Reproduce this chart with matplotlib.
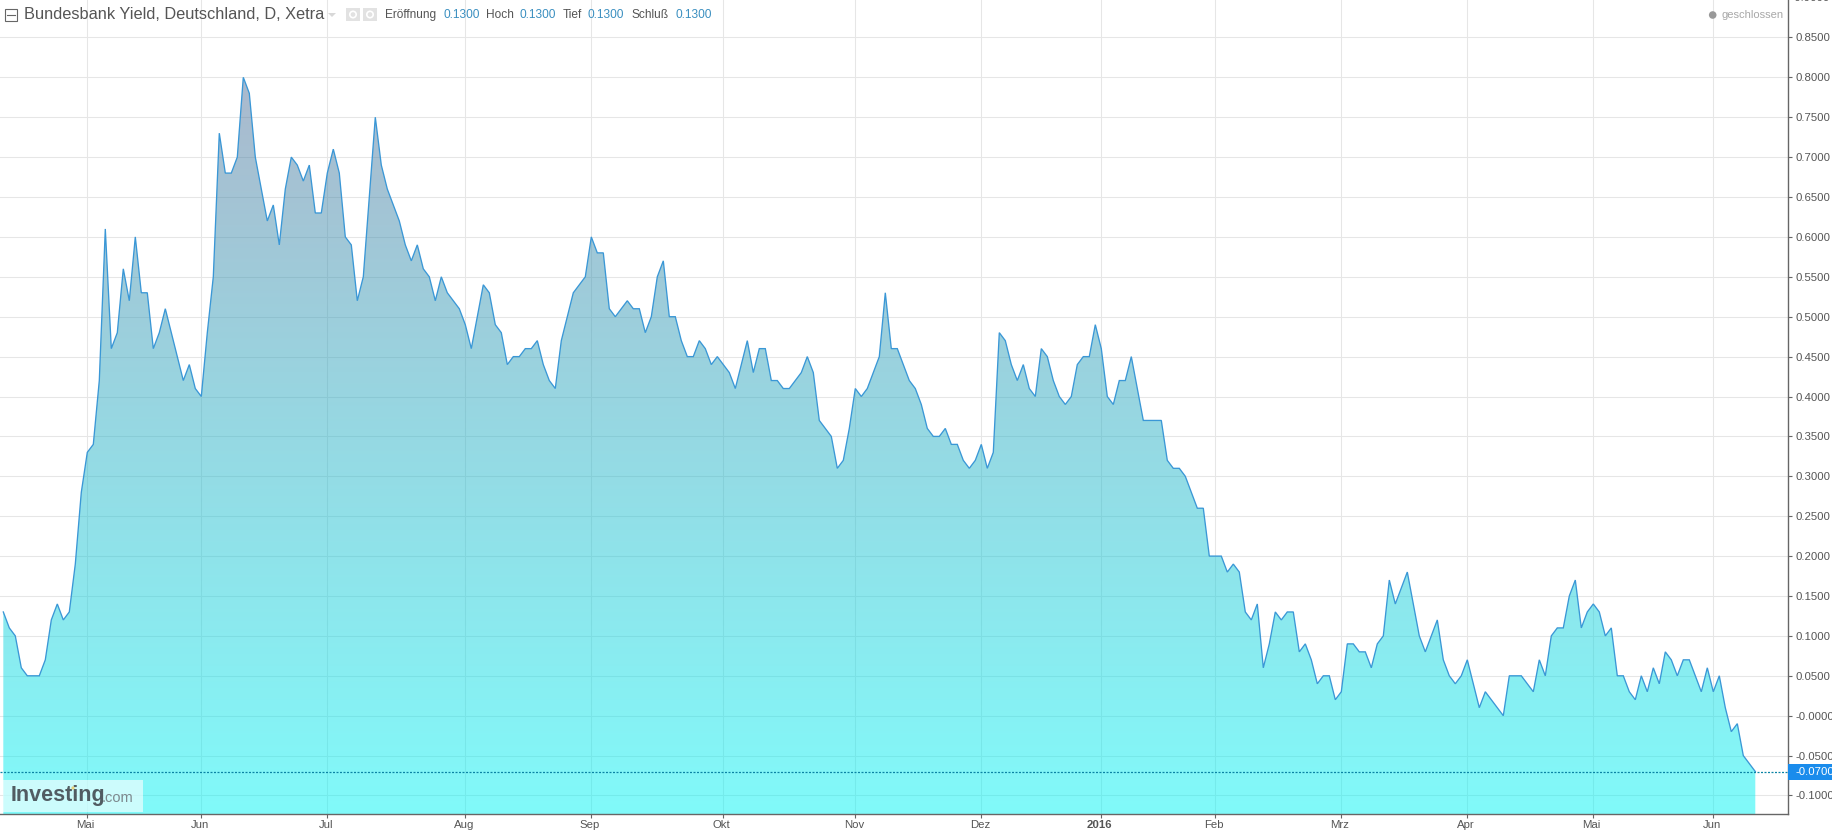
#!/usr/bin/python
"""
Bundesbank Yield daily chart, area with a vertical gradient, one point per trading day.
"""

import numpy as np
import matplotlib
matplotlib.use("Agg")
import matplotlib.pyplot as plt
from matplotlib.patches import Rectangle, Circle, Polygon
from matplotlib.transforms import Affine2D

# yield values per trading day, split up by the month they were read from
apr_15 = [.13, .11, .10, .06, .05, .05, .05, .07, .12, .14, .12, .13, .19, .28]
mai_15 = [.33, .34, .42, .61, .46, .48, .56, .52, .60, .53, .53, .46, .48, .51, .48, .45, .42, .44, .41]
jun_15 = [.40, .48, .55, .73, .68, .68, .70, .80, .78, .70, .66, .62, .64, .59, .66, .70, .69, .67, .69, .63, .63]
jul_15 = [.68, .71, .68, .60, .59, .52, .55, .65, .75, .69, .66, .64, .62, .59, .57, .59, .56, .55, .52, .55,
          .53, .52, .51]
aug_15 = [.49, .46, .50, .54, .53, .49, .48, .44, .45, .45, .46, .46, .47, .44, .42, .41, .47, .50, .53, .54, .55]
sep_15 = [.60, .58, .58, .51, .50, .51, .52, .51, .51, .48, .50, .55, .57, .50, .50, .47, .45, .45, .47, .46,
          .44, .45]
okt_15 = [.44, .43, .41, .44, .47, .43, .46, .46, .42, .42, .41, .41, .42, .43, .45, .43, .37, .36, .35, .31,
          .32, .36]
nov_15 = [.41, .40, .41, .43, .45, .53, .46, .46, .44, .42, .41, .39, .36, .35, .35, .36, .34, .34, .32, .31, .32]
dez_15 = [.34, .31, .33, .48, .47, .44, .42, .44, .41, .40, .46, .45, .42, .40, .39, .40, .44, .45, .45, .49]
jan_16 = [.46, .40, .39, .42, .42, .45, .41, .37, .37, .37, .37, .32, .31, .31, .30, .28, .26, .26, .20]
feb_16 = [.20, .20, .18, .19, .18, .13, .12, .14, .06, .09, .13, .12, .13, .13, .08, .09, .07, .04, .05, .05, .02]
mrz_16 = [.03, .09, .09, .08, .08, .06, .09, .10, .17, .14, .16, .18, .14, .10, .08, .10, .12, .07, .05, .04, .05]
apr_16 = [.07, .04, .01, .03, .02, .01, .00, .05, .05, .05, .04, .03, .07, .05, .10, .11, .11, .15, .17, .11, .13]
mai_16 = [.14, .13, .10, .11, .05, .05, .03, .02, .05, .03, .06, .04, .08, .07, .05, .07, .07, .05, .03, .06]
jun_16 = [.03, .05, .01, -.02, -.01, -.05, -.06, -.07]

month_labels = ["Mai", "Jun", "Jul", "Aug", "Sep", "Okt", "Nov", "Dez", "2016", "Feb", "Mrz", "Apr", "Mai", "Jun"]
month_blocks = [mai_15, jun_15, jul_15, aug_15, sep_15, okt_15, nov_15, dez_15, jan_16, feb_16, mrz_16, apr_16,
                mai_16, jun_16]

y_ticks = [-0.10, -0.05, 0.00, 0.05, 0.10, 0.15, 0.20, 0.25, 0.30, 0.35, 0.40, 0.45, 0.50, 0.55, 0.60, 0.65,
           0.70, 0.75, 0.80, 0.85]
y_labels = ["-0.1000", "-0.0500", "-0.0000"] + ["%.4f" % t for t in y_ticks[3:]]
top_label = "0.9000"
last_value = -0.07
last_label = "-0.0700"
ohlc = ["Eröffnung", "0.1300", "Hoch", "0.1300", "Tief", "0.1300", "Schluß", "0.1300"]
title = "Bundesbank Yield, Deutschland, D, Xetra"

WIDTH, HEIGHT = 1833, 831
TEXT_DARK = "#555555"


def draw_area(ax, values):
    """
    Line plus gradient area. The fill is half transparent so the grid shows through it.
    """
    x = np.arange(len(values))
    bottom = ax.get_ylim()[0]
    top_rgb = np.array([85, 115, 155]) / 255
    low_rgb = np.array([1, 245, 245]) / 255
    steps = np.linspace(0, 1, 256)[:, None]
    grad = np.ones((256, 1, 4))
    grad[:, :, :3] = (top_rgb * (1 - steps) + low_rgb * steps)[:, None, :]
    grad[:, :, 3] = 0.5

    xlim, ylim = ax.get_xlim(), ax.get_ylim()
    img = ax.imshow(grad, extent=(xlim[0], xlim[1], bottom, max(values)), aspect="auto", origin="upper",
                    interpolation="bilinear", zorder=1)
    outline = np.vstack([[x[0], bottom], np.column_stack([x, values]), [x[-1], bottom]])
    clip = Polygon(outline, closed=True, transform=ax.transData, facecolor="none", edgecolor="none")
    ax.add_patch(clip)
    img.set_clip_path(clip)
    ax.set_xlim(xlim)
    ax.set_ylim(ylim)

    ax.plot(x, values, color="#3a97d6", lw=0.95, zorder=3, solid_joinstyle="miter")


def draw_axes(ax, month_ticks):
    for side in ["left", "top"]:
        ax.spines[side].set_visible(False)
    for side in ["right", "bottom"]:
        ax.spines[side].set_color("#666666")
        ax.spines[side].set_linewidth(1.0)
    ax.yaxis.tick_right()
    ax.set_yticks(y_ticks)
    ax.set_yticklabels(y_labels)
    ax.set_xticks(month_ticks)
    ax.set_xticklabels(month_labels)
    ax.tick_params(axis="y", length=3, width=0.8, color="#666666", labelsize=8.2, labelcolor=TEXT_DARK, pad=2.5)
    ax.tick_params(axis="x", length=3, width=0.8, color="#666666", labelsize=8.2, labelcolor=TEXT_DARK, pad=1.5)
    ax.grid(True, color="#e6e6e6", lw=0.75, zorder=0)
    ax.set_axisbelow(True)
    # the month labels sit a little left of their ticks
    nudge = Affine2D().translate(-1.5, 0)
    for lab in ax.get_xticklabels():
        lab.set_transform(lab.get_transform() + nudge)
        if lab.get_text() == "2016":
            lab.set_fontweight("bold")
    ax.text(1.0, 0.9, "  " + top_label, transform=ax.get_yaxis_transform(), va="center", ha="left", fontsize=8.2,
            color=TEXT_DARK)


def draw_last_price(ax):
    ax.axhline(last_value, color="#0b84a5", lw=0.9, ls=(0, (1.6, 1.2)), zorder=4)


def draw_header(fig, ax):
    px = Affine2D().scale(1, -1).translate(0, HEIGHT)

    # collapse icon
    fig.add_artist(Rectangle((4.5, 8.5), 12, 12, transform=px, facecolor="white", edgecolor="#666666", lw=0.8))
    fig.add_artist(plt.Line2D([6.5, 14.5], [14.5, 14.5], transform=px, color="#666666", lw=0.8))
    fig.text(24, 14.5, title, transform=px, fontsize=11.75, color=TEXT_DARK, va="center", ha="left")

    # small triangle and the two settings buttons
    fig.add_artist(Polygon([[328, 13], [336, 13], [332, 17]], transform=px, facecolor="#d8d8d8", edgecolor="none"))
    for x0 in [346, 363]:
        fig.add_artist(Rectangle((x0, 8), 14, 13, transform=px, facecolor="#e2e2e2", edgecolor="none"))
        fig.add_artist(Circle((x0 + 7, 14.5), 3.2, transform=px, facecolor="none", edgecolor="white", lw=1.2))

    xs = [385, 443, 486, 520, 563, 588, 632, 675]
    for pos, text in enumerate(ohlc):
        color = "#3a8fc0" if pos % 2 else TEXT_DARK
        fig.text(xs[pos], 15, text, transform=px, fontsize=8.6, color=color, va="center", ha="left")

    # market status
    fig.add_artist(Circle((1712.7, 15), 3.8, transform=px, facecolor="#999999", edgecolor="none"))
    fig.text(1721, 15, "geschlossen", transform=px, fontsize=8.0, color="#a8a8a8", va="center", ha="left")

    # blue box and text for the last price, placed from the value through the axes scale
    y_px = HEIGHT - ax.transData.transform((0, last_value))[1]
    fig.add_artist(Rectangle((1788, y_px - 8), 45, 16, transform=px, facecolor="#1a8cec", edgecolor="none", zorder=3))
    fig.text(1795, y_px, last_label, transform=px, color="white", fontsize=8.2, va="center", ha="left", zorder=4)

    # watermark
    fig.add_artist(Rectangle((3, 780), 140, 32, transform=px, facecolor="white", edgecolor="none", alpha=0.6,
                             zorder=5))
    fig.text(11, 796, "Investing", transform=px, fontsize=15.5, fontweight="bold", color="#515c62", va="center",
             ha="left", zorder=6)
    fig.text(102, 797.5, ".com", transform=px, fontsize=10.5, color="#7d888d", va="center", ha="left", zorder=6)
    fig.add_artist(Circle((73, 788), 1.6, transform=px, facecolor="#e6cf7a", edgecolor="none", zorder=7))


def main():
    plt.rcParams["font.family"] = ["Liberation Sans", "DejaVu Sans"]
    values = apr_15 + [v for block in month_blocks for v in block]
    month_ticks = []
    pos = len(apr_15)
    for block in month_blocks:
        month_ticks.append(pos)
        pos += len(block)

    fig = plt.figure(figsize=(WIDTH / 100, HEIGHT / 100), dpi=100, facecolor="white")
    ax = fig.add_axes([0, 17 / HEIGHT, 1788 / WIDTH, 814 / HEIGHT])
    ax.set_facecolor("white")
    ax.set_xlim(-0.55, 297.45)
    ax.set_ylim(-0.1232, 0.8969)

    draw_axes(ax, month_ticks)
    draw_area(ax, values)
    draw_last_price(ax)
    draw_header(fig, ax)

    fig.savefig("out.png", dpi=100, facecolor="white")
    return


if __name__ == "__main__":
    main()
